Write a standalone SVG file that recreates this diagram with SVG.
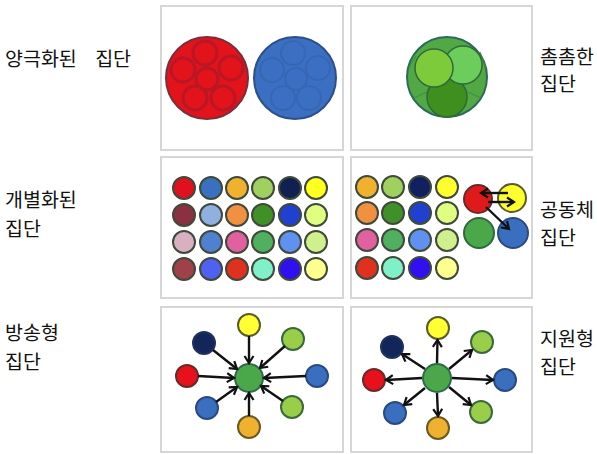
<svg xmlns="http://www.w3.org/2000/svg" width="597" height="454" viewBox="0 0 597 454">
<style>
.panel{fill:#fff;stroke:#d6d6d6;stroke-width:2}
.lbl{font-family:"Noto Sans CJK KR","Noto Sans",sans-serif;font-size:19.5px;fill:#111}
.dot{stroke:#3f4a3a;stroke-width:2}
.node{stroke-width:2}
.arr{stroke:#111;stroke-width:2.4;fill:none;marker-end:url(#ah)}
</style>
<defs>
<marker id="ah" markerUnits="userSpaceOnUse" markerWidth="12" markerHeight="12" refX="9" refY="6" orient="auto">
<path d="M2,1.5 L9,6 L2,10.5" fill="none" stroke="#111" stroke-width="2.2"/>
</marker>
</defs>
<rect width="597" height="454" fill="#fff"/>

<g id="panels">
<rect class="panel" x="161" y="6" width="182" height="144"/>
<rect class="panel" x="351" y="6" width="181" height="144"/>
<rect class="panel" x="161" y="157" width="182" height="141"/>
<rect class="panel" x="351" y="157" width="181" height="141"/>
<rect class="panel" x="161" y="307" width="182" height="145"/>
<rect class="panel" x="351" y="307" width="181" height="145"/>
</g>

<g id="labels">
<text class="lbl" x="5" y="66" word-spacing="14">양극화된 집단</text>
<text class="lbl" x="5" y="207">개별화된</text>
<text class="lbl" x="5" y="236">집단</text>
<text class="lbl" x="5" y="340">방송형</text>
<text class="lbl" x="5" y="369">집단</text>
<text class="lbl" x="540" y="64">촘촘한</text>
<text class="lbl" x="540" y="91">집단</text>
<text class="lbl" x="540" y="217">공동체</text>
<text class="lbl" x="540" y="245">집단</text>
<text class="lbl" x="540" y="346">지원형</text>
<text class="lbl" x="540" y="374">집단</text>
</g>

<g id="polarized-red">
<circle cx="207" cy="78" r="41" fill="#e3131b" stroke="#7a2d3c" stroke-width="2"/>
<g fill="none" stroke="#a01a2a" stroke-width="3" opacity="0.6">
<circle cx="205" cy="53" r="12"/>
<circle cx="183" cy="70" r="12"/>
<circle cx="231" cy="68" r="12"/>
<circle cx="207" cy="79" r="11"/>
<circle cx="195" cy="98" r="12"/>
<circle cx="223" cy="98" r="12"/>
</g>
</g>
<g id="polarized-blue">
<circle cx="295" cy="78" r="41" fill="#3b6fc1" stroke="#2d4f8a" stroke-width="2"/>
<g fill="none" stroke="#2f5fa8" stroke-width="2" opacity="0.45">
<circle cx="293" cy="53" r="12"/>
<circle cx="272" cy="70" r="12"/>
<circle cx="318" cy="68" r="12"/>
<circle cx="296" cy="79" r="11"/>
<circle cx="283" cy="98" r="12"/>
<circle cx="309" cy="98" r="12"/>
</g>
</g>

<g id="dense-group">
<circle cx="447" cy="77" r="40" fill="#52a844" stroke="#2e6a5a" stroke-width="2"/>
<g stroke="#3e8a3e" stroke-width="1.2" fill="none" opacity="0.8">
<path d="M416,56 L410,66 M480,52 L486,68 M427,92 L414,98 M468,92 L481,98"/>
</g>
<circle cx="447" cy="97" r="20" fill="#3f8f1e" stroke="#2e6a3a" stroke-width="1.5"/>
<circle cx="463" cy="65" r="19" fill="#6ccc5c" stroke="#2e6a3a" stroke-width="1.5"/>
<circle cx="434" cy="68" r="19" fill="#7dcb3a" stroke="#2e6a3a" stroke-width="1.5"/>
</g>

<g id="individual-grid">
<circle class="dot" cx="184" cy="188" r="11" fill="#e0101e" stroke="#7a2a3a"/>
<circle class="dot" cx="211" cy="188" r="11" fill="#3a70c0" stroke="#2d5090"/>
<circle class="dot" cx="237" cy="188" r="11" fill="#f0b030"/>
<circle class="dot" cx="263" cy="188" r="11" fill="#a0d060"/>
<circle class="dot" cx="290" cy="188" r="11" fill="#102050" stroke="#1a2a5a"/>
<circle class="dot" cx="316" cy="188" r="11" fill="#ffff20"/>
<circle class="dot" cx="184" cy="215" r="11" fill="#8a3040"/>
<circle class="dot" cx="211" cy="215" r="11" fill="#90b0e0"/>
<circle class="dot" cx="237" cy="215" r="11" fill="#f09040"/>
<circle class="dot" cx="263" cy="215" r="11" fill="#40902a"/>
<circle class="dot" cx="290" cy="215" r="11" fill="#2040d0" stroke="#2a3a90"/>
<circle class="dot" cx="316" cy="215" r="11" fill="#e0ff80"/>
<circle class="dot" cx="184" cy="242" r="11" fill="#d8b0c0"/>
<circle class="dot" cx="211" cy="242" r="11" fill="#5080d0"/>
<circle class="dot" cx="237" cy="242" r="11" fill="#e060a0"/>
<circle class="dot" cx="263" cy="242" r="11" fill="#50b060"/>
<circle class="dot" cx="290" cy="242" r="11" fill="#6090f0"/>
<circle class="dot" cx="316" cy="242" r="11" fill="#d0f090"/>
<circle class="dot" cx="184" cy="269" r="11" fill="#a04048"/>
<circle class="dot" cx="211" cy="269" r="11" fill="#5060f0"/>
<circle class="dot" cx="237" cy="269" r="11" fill="#e03020"/>
<circle class="dot" cx="263" cy="269" r="11" fill="#80f0c8"/>
<circle class="dot" cx="290" cy="269" r="11" fill="#3010f0"/>
<circle class="dot" cx="316" cy="269" r="11" fill="#ffff90"/>
</g>

<g id="community-grid">
<circle class="dot" cx="367" cy="187" r="11" fill="#f0b030"/>
<circle class="dot" cx="393" cy="187" r="11" fill="#a0d060"/>
<circle class="dot" cx="420" cy="187" r="11" fill="#102060" stroke="#1a2a5a"/>
<circle class="dot" cx="447" cy="187" r="11" fill="#ffff30"/>
<circle class="dot" cx="367" cy="213" r="11" fill="#f09040"/>
<circle class="dot" cx="393" cy="213" r="11" fill="#40902a"/>
<circle class="dot" cx="420" cy="213" r="11" fill="#2040d0" stroke="#2a3a90"/>
<circle class="dot" cx="447" cy="213" r="11" fill="#e0ff80"/>
<circle class="dot" cx="367" cy="240" r="11" fill="#e060a0"/>
<circle class="dot" cx="393" cy="240" r="11" fill="#50b060"/>
<circle class="dot" cx="420" cy="240" r="11" fill="#6090f0"/>
<circle class="dot" cx="447" cy="240" r="11" fill="#d0f090"/>
<circle class="dot" cx="367" cy="268" r="11" fill="#e03020"/>
<circle class="dot" cx="393" cy="268" r="11" fill="#80f0c8"/>
<circle class="dot" cx="420" cy="268" r="11" fill="#3010f0"/>
<circle class="dot" cx="447" cy="268" r="11" fill="#ffff90"/>
</g>

<g id="community-red"><circle class="node" cx="478" cy="199" r="14" fill="#e01a1a" stroke="#6a2a2a"/></g>
<g id="community-yellow"><circle class="node" cx="512" cy="198" r="14" fill="#ffff30" stroke="#5a5a2a"/></g>
<g id="community-green"><circle class="node" cx="479" cy="233" r="15" fill="#4aa84a" stroke="#2e6a3a"/></g>
<g id="community-blue"><circle class="node" cx="513" cy="233" r="15" fill="#3a6fc0" stroke="#2a4a80"/></g>

<g id="bl-center"><circle class="node" cx="249" cy="378" r="14" fill="#4aa84a" stroke="#2e6a4a"/></g>
<g id="bl-yellow"><circle class="node" cx="249" cy="325" r="11" fill="#ffff33" stroke="#5a5a2a"/></g>
<g id="bl-lgreen1"><circle class="node" cx="293" cy="339" r="11" fill="#9acd4a" stroke="#3a6a3a"/></g>
<g id="bl-blue1"><circle class="node" cx="317" cy="376" r="11" fill="#3a6fc0" stroke="#2a4a80"/></g>
<g id="bl-lgreen2"><circle class="node" cx="292" cy="407" r="11" fill="#9acd4a" stroke="#3a6a3a"/></g>
<g id="bl-orange"><circle class="node" cx="249" cy="427" r="11" fill="#f0b030" stroke="#6a5a20"/></g>
<g id="bl-blue2"><circle class="node" cx="207" cy="408" r="11" fill="#3a6fc0" stroke="#2a4a80"/></g>
<g id="bl-red"><circle class="node" cx="187" cy="376" r="11" fill="#e8101a" stroke="#6a2a2a"/></g>
<g id="bl-navy"><circle class="node" cx="204" cy="343" r="11" fill="#13265a" stroke="#203060"/></g>

<g id="br-center"><circle class="node" cx="437" cy="378" r="14" fill="#4aa84a" stroke="#2e6a4a"/></g>
<g id="br-yellow"><circle class="node" cx="438" cy="328" r="11" fill="#ffff33" stroke="#5a5a2a"/></g>
<g id="br-lgreen1"><circle class="node" cx="482" cy="342" r="11" fill="#9acd4a" stroke="#3a6a3a"/></g>
<g id="br-blue1"><circle class="node" cx="505" cy="380" r="11" fill="#3a6fc0" stroke="#2a4a80"/></g>
<g id="br-lgreen2"><circle class="node" cx="481" cy="412" r="11" fill="#9acd4a" stroke="#3a6a3a"/></g>
<g id="br-orange"><circle class="node" cx="438" cy="428" r="11" fill="#f0b030" stroke="#6a5a20"/></g>
<g id="br-blue2"><circle class="node" cx="395" cy="413" r="11" fill="#3a6fc0" stroke="#2a4a80"/></g>
<g id="br-red"><circle class="node" cx="374" cy="380" r="11" fill="#e8101a" stroke="#6a2a2a"/></g>
<g id="br-navy"><circle class="node" cx="392" cy="347" r="11" fill="#13265a" stroke="#203060"/></g>

<g id="connectors">
<line class="arr" x1="508" y1="193" x2="481" y2="193"/>
<line class="arr" x1="488" y1="202" x2="514" y2="202"/>
<line class="arr" x1="486" y1="207" x2="509" y2="229"/>

<line class="arr" x1="249" y1="336" x2="249" y2="363"/>
<line class="arr" x1="285" y1="346" x2="260" y2="368"/>
<line class="arr" x1="306" y1="376" x2="264" y2="378"/>
<line class="arr" x1="283" y1="401" x2="261" y2="386"/>
<line class="arr" x1="249" y1="416" x2="249" y2="393"/>
<line class="arr" x1="216" y1="402" x2="237" y2="387"/>
<line class="arr" x1="198" y1="376" x2="234" y2="378"/>
<line class="arr" x1="213" y1="350" x2="237" y2="369"/>

<line class="arr" x1="437" y1="363" x2="437.5" y2="340"/>
<line class="arr" x1="449" y1="369" x2="472" y2="350"/>
<line class="arr" x1="452" y1="378" x2="493" y2="380"/>
<line class="arr" x1="449" y1="387" x2="471" y2="405"/>
<line class="arr" x1="437" y1="393" x2="438" y2="416"/>
<line class="arr" x1="425" y1="388" x2="404" y2="405"/>
<line class="arr" x1="422" y1="378" x2="386" y2="380"/>
<line class="arr" x1="425" y1="369" x2="402" y2="354"/>
</g>
</svg>
